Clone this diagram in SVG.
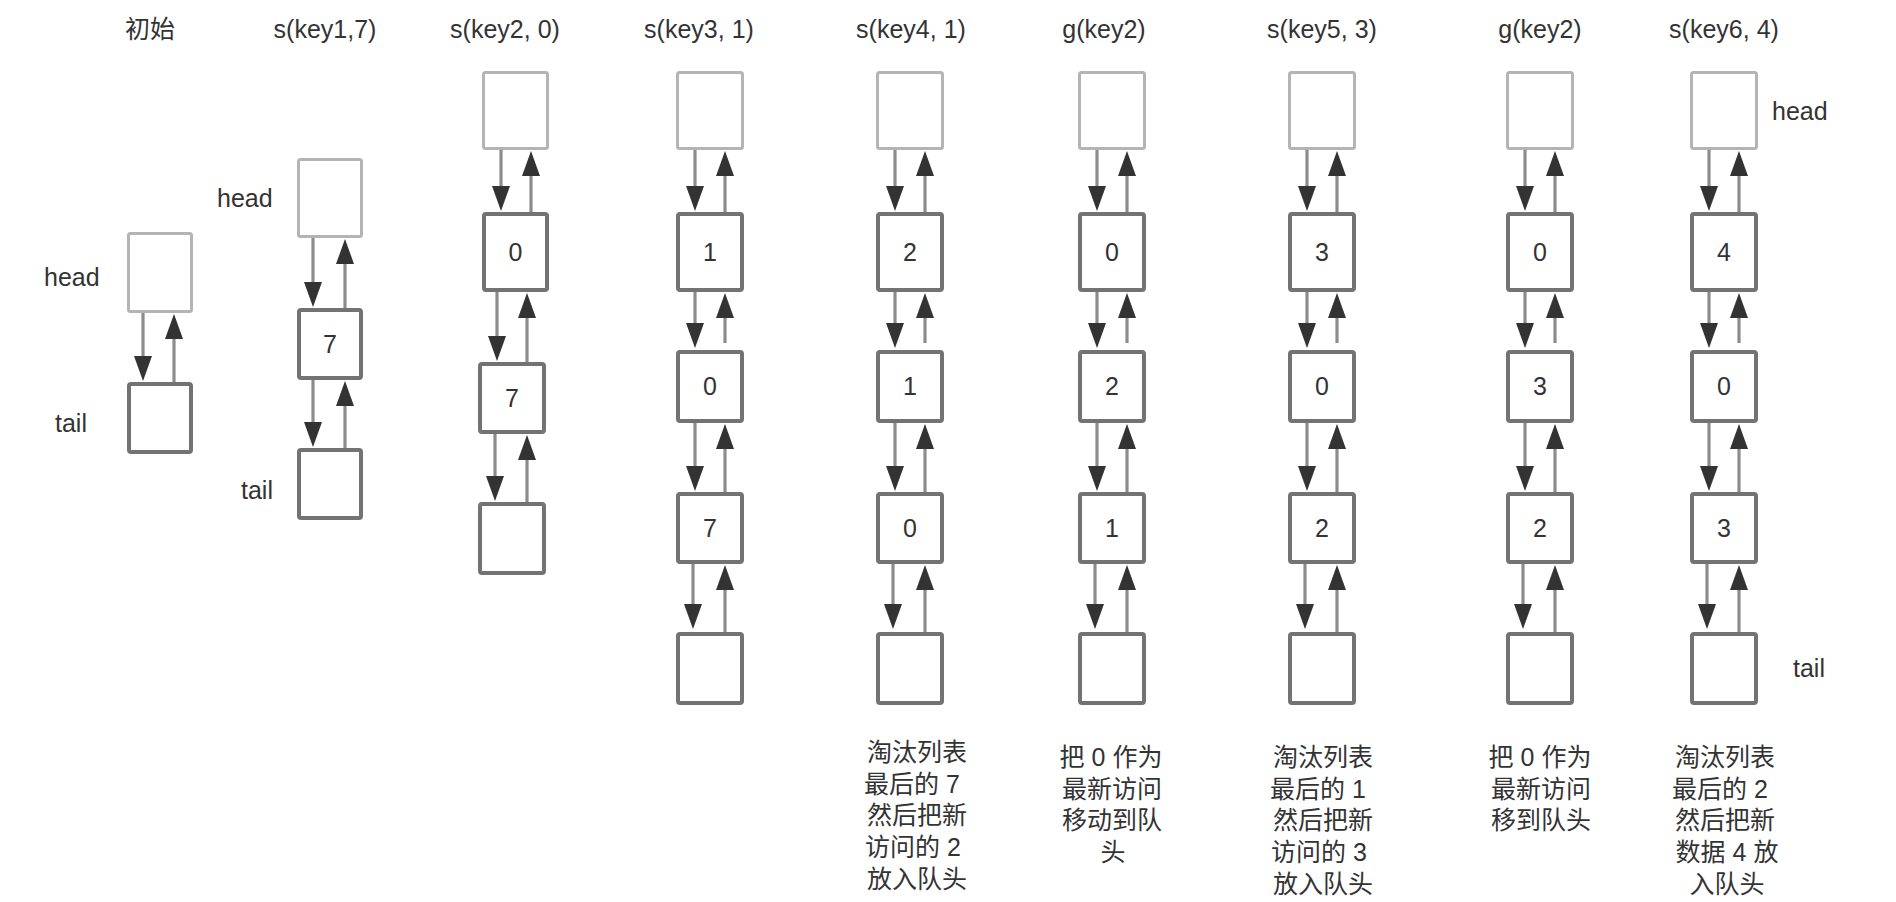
<svg xmlns="http://www.w3.org/2000/svg" width="1896" height="902" viewBox="0 0 1896 902">
<style>
text{font-family:"Liberation Sans","Noto Sans CJK SC",sans-serif;font-size:25px;fill:#333}
.t{text-anchor:middle}
.num{text-anchor:middle}
.lab{text-anchor:start}
.hb{fill:#fff;stroke:#b4b4b4;stroke-width:3}
.nb{fill:#fff;stroke:#737373;stroke-width:4}
.cn path{fill:none;stroke:#8c8c8c;stroke-width:3.2;marker-end:url(#ah)}
</style>
<defs>
<marker id="ah" viewBox="0 0 25 18" refX="13" refY="9" markerWidth="25" markerHeight="18" markerUnits="userSpaceOnUse" orient="auto">
<path d="M0,0 L25,9 L0,18 z" fill="#333"/>
</marker>
</defs>
<rect width="1896" height="902" fill="#fff"/>

<g id="titles" class="t">
<text x="150" y="38">初始</text>
<text x="325" y="38">s(key1,7)</text>
<text x="505" y="38">s(key2, 0)</text>
<text x="699" y="38">s(key3, 1)</text>
<text x="911" y="38">s(key4, 1)</text>
<text x="1104" y="38">g(key2)</text>
<text x="1322" y="38">s(key5, 3)</text>
<text x="1540" y="38">g(key2)</text>
<text x="1724" y="38">s(key6, 4)</text>
</g>

<g id="labels" class="lab">
<text x="44" y="286">head</text>
<text x="55" y="432">tail</text>
<text x="217" y="207">head</text>
<text x="241" y="499">tail</text>
<text x="1772" y="120">head</text>
<text x="1793" y="677">tail</text>
</g>

<!-- column 1 -->
<g id="c1-head"><rect class="hb" x="128.5" y="233.5" width="63" height="78" rx="2"/></g>
<g id="c1-tail"><rect class="nb" x="129" y="384" width="62" height="68" rx="2"/></g>
<!-- column 2 -->
<g id="c2-head"><rect class="hb" x="298.5" y="159.5" width="63" height="77" rx="2"/></g>
<g id="c2-n7"><rect class="nb" x="299" y="310" width="62" height="68" rx="2"/><text class="num" x="330" y="353">7</text></g>
<g id="c2-tail"><rect class="nb" x="299" y="450" width="62" height="68" rx="2"/></g>
<!-- column 3 -->
<g id="c3-head"><rect class="hb" x="483.5" y="72.5" width="64" height="76" rx="2"/></g>
<g id="c3-n0"><rect class="nb" x="484" y="214" width="63" height="76" rx="2"/><text class="num" x="515.5" y="261">0</text></g>
<g id="c3-n7"><rect class="nb" x="480" y="364" width="64" height="68" rx="2"/><text class="num" x="512" y="407">7</text></g>
<g id="c3-tail"><rect class="nb" x="480" y="504" width="64" height="69" rx="2"/></g>
<!-- column 4 -->
<g id="c4-head"><rect class="hb" x="677.5" y="72.5" width="65" height="76" rx="2"/></g>
<g id="c4-n1"><rect class="nb" x="678" y="214" width="64" height="76" rx="2"/><text class="num" x="710" y="261">1</text></g>
<g id="c4-n0"><rect class="nb" x="678" y="352" width="64" height="69" rx="2"/><text class="num" x="710" y="395">0</text></g>
<g id="c4-n7"><rect class="nb" x="678" y="494" width="64" height="68" rx="2"/><text class="num" x="710" y="537">7</text></g>
<g id="c4-tail"><rect class="nb" x="678" y="634" width="64" height="69" rx="2"/></g>
<!-- column 5 -->
<g id="c5-head"><rect class="hb" x="877.5" y="72.5" width="65" height="76" rx="2"/></g>
<g id="c5-n2"><rect class="nb" x="878" y="214" width="64" height="76" rx="2"/><text class="num" x="910" y="261">2</text></g>
<g id="c5-n1"><rect class="nb" x="878" y="352" width="64" height="69" rx="2"/><text class="num" x="910" y="395">1</text></g>
<g id="c5-n0"><rect class="nb" x="878" y="494" width="64" height="68" rx="2"/><text class="num" x="910" y="537">0</text></g>
<g id="c5-tail"><rect class="nb" x="878" y="634" width="64" height="69" rx="2"/></g>
<!-- column 6 -->
<g id="c6-head"><rect class="hb" x="1079.5" y="72.5" width="65" height="76" rx="2"/></g>
<g id="c6-n0"><rect class="nb" x="1080" y="214" width="64" height="76" rx="2"/><text class="num" x="1112" y="261">0</text></g>
<g id="c6-n2"><rect class="nb" x="1080" y="352" width="64" height="69" rx="2"/><text class="num" x="1112" y="395">2</text></g>
<g id="c6-n1"><rect class="nb" x="1080" y="494" width="64" height="68" rx="2"/><text class="num" x="1112" y="537">1</text></g>
<g id="c6-tail"><rect class="nb" x="1080" y="634" width="64" height="69" rx="2"/></g>
<!-- column 7 -->
<g id="c7-head"><rect class="hb" x="1289.5" y="72.5" width="65" height="76" rx="2"/></g>
<g id="c7-n3"><rect class="nb" x="1290" y="214" width="64" height="76" rx="2"/><text class="num" x="1322" y="261">3</text></g>
<g id="c7-n0"><rect class="nb" x="1290" y="352" width="64" height="69" rx="2"/><text class="num" x="1322" y="395">0</text></g>
<g id="c7-n2"><rect class="nb" x="1290" y="494" width="64" height="68" rx="2"/><text class="num" x="1322" y="537">2</text></g>
<g id="c7-tail"><rect class="nb" x="1290" y="634" width="64" height="69" rx="2"/></g>
<!-- column 8 -->
<g id="c8-head"><rect class="hb" x="1507.5" y="72.5" width="65" height="76" rx="2"/></g>
<g id="c8-n0"><rect class="nb" x="1508" y="214" width="64" height="76" rx="2"/><text class="num" x="1540" y="261">0</text></g>
<g id="c8-n3"><rect class="nb" x="1508" y="352" width="64" height="69" rx="2"/><text class="num" x="1540" y="395">3</text></g>
<g id="c8-n2"><rect class="nb" x="1508" y="494" width="64" height="68" rx="2"/><text class="num" x="1540" y="537">2</text></g>
<g id="c8-tail"><rect class="nb" x="1508" y="634" width="64" height="69" rx="2"/></g>
<!-- column 9 -->
<g id="c9-head"><rect class="hb" x="1691.5" y="72.5" width="65" height="76" rx="2"/></g>
<g id="c9-n4"><rect class="nb" x="1692" y="214" width="64" height="76" rx="2"/><text class="num" x="1724" y="261">4</text></g>
<g id="c9-n0"><rect class="nb" x="1692" y="352" width="64" height="69" rx="2"/><text class="num" x="1724" y="395">0</text></g>
<g id="c9-n3"><rect class="nb" x="1692" y="494" width="64" height="68" rx="2"/><text class="num" x="1724" y="537">3</text></g>
<g id="c9-tail"><rect class="nb" x="1692" y="634" width="64" height="69" rx="2"/></g>

<g id="connectors" class="cn">
<!-- col1 -->
<path d="M143 313 L143 369"/><path d="M174 382 L174 326"/>
<!-- col2 -->
<path d="M313 238 L313 295"/><path d="M345 308 L345 251"/>
<path d="M313 380 L313 435"/><path d="M345 448 L345 393"/>
<!-- col3 -->
<path d="M501 150 L501 199"/><path d="M531 212 L531 163"/>
<path d="M497 292 L497 349"/><path d="M527 362 L527 305"/>
<path d="M495 434 L495 489"/><path d="M527 502 L527 447"/>
<!-- col4 -->
<path d="M695 150 L695 199"/><path d="M725 212 L725 163"/>
<path d="M695 292 L695 336"/><path d="M725 343 L725 305"/>
<path d="M695 423 L695 479"/><path d="M725 492 L725 436"/>
<path d="M693 564 L693 617"/><path d="M725 632 L725 577"/>
<!-- col5 -->
<path d="M895 150 L895 199"/><path d="M925 212 L925 163"/>
<path d="M895 292 L895 336"/><path d="M925 343 L925 305"/>
<path d="M895 423 L895 479"/><path d="M925 492 L925 436"/>
<path d="M893 564 L893 617"/><path d="M925 632 L925 577"/>
<!-- col6 -->
<path d="M1097 150 L1097 199"/><path d="M1127 212 L1127 163"/>
<path d="M1097 292 L1097 336"/><path d="M1127 343 L1127 305"/>
<path d="M1097 423 L1097 479"/><path d="M1127 492 L1127 436"/>
<path d="M1095 564 L1095 617"/><path d="M1127 632 L1127 577"/>
<!-- col7 -->
<path d="M1307 150 L1307 199"/><path d="M1337 212 L1337 163"/>
<path d="M1307 292 L1307 336"/><path d="M1337 343 L1337 305"/>
<path d="M1307 423 L1307 479"/><path d="M1337 492 L1337 436"/>
<path d="M1305 564 L1305 617"/><path d="M1337 632 L1337 577"/>
<!-- col8 -->
<path d="M1525 150 L1525 199"/><path d="M1555 212 L1555 163"/>
<path d="M1525 292 L1525 336"/><path d="M1555 343 L1555 305"/>
<path d="M1525 423 L1525 479"/><path d="M1555 492 L1555 436"/>
<path d="M1523 564 L1523 617"/><path d="M1555 632 L1555 577"/>
<!-- col9 -->
<path d="M1709 150 L1709 199"/><path d="M1739 212 L1739 163"/>
<path d="M1709 292 L1709 336"/><path d="M1739 343 L1739 305"/>
<path d="M1709 423 L1709 479"/><path d="M1739 492 L1739 436"/>
<path d="M1707 564 L1707 617"/><path d="M1739 632 L1739 577"/>
</g>

<g id="notes" class="t">
<text x="917" y="761">淘汰列表</text>
<text x="912" y="793">最后的 7</text>
<text x="917" y="824">然后把新</text>
<text x="913" y="856">访问的 2</text>
<text x="917" y="888">放入队头</text>

<text x="1111" y="766">把 0 作为</text>
<text x="1112" y="798">最新访问</text>
<text x="1112" y="829">移动到队</text>
<text x="1113" y="861">头</text>

<text x="1323" y="766">淘汰列表</text>
<text x="1318" y="798">最后的 1</text>
<text x="1323" y="829">然后把新</text>
<text x="1319" y="861">访问的 3</text>
<text x="1323" y="893">放入队头</text>

<text x="1540" y="766">把 0 作为</text>
<text x="1541" y="798">最新访问</text>
<text x="1541" y="829">移到队头</text>

<text x="1725" y="766">淘汰列表</text>
<text x="1720" y="798">最后的 2</text>
<text x="1725" y="829">然后把新</text>
<text x="1727" y="861">数据 4 放</text>
<text x="1727" y="893">入队头</text>
</g>
</svg>
